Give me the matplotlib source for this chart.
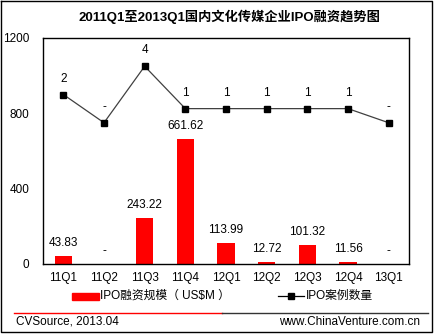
import matplotlib
matplotlib.use("Agg")
import matplotlib.pyplot as plt
from matplotlib.lines import Line2D
from matplotlib.patches import Rectangle

plt.rcParams['font.family'] = ['Liberation Sans', 'Noto Sans CJK SC', 'DejaVu Sans']

quarters = ["11Q1", "11Q2", "11Q3", "11Q4", "12Q1", "12Q2", "12Q3", "12Q4", "13Q1"]
ipo_amount = [43.83, 0, 243.22, 661.62, 113.99, 12.72, 101.32, 11.56, 0]
ipo_count = [2, 0, 4, 1, 1, 1, 1, 1, 0]
y_ticks = [0, 400, 800, 1200]

title = "2011Q1至2013Q1国内文化传媒企业IPO融资趋势图"
amount_label = "IPO融资规模（ US$M ）"
count_label = "IPO案例数量"
source_text = "CVSource, 2013.04"
site_text = "www.ChinaVenture.com.cn"

FS = 8.5
W, H = 434, 335
fig = plt.figure(figsize=(W / 100, H / 100), dpi=100)
fig.patch.set_facecolor("white")


def fx(px):
    return px / W


def fy(py):
    return 1 - py / H


# plot area
left, right, top, bottom = 43, 409, 38, 264
ax = fig.add_axes([fx(left), fy(bottom), fx(right - left), (bottom - top) / H])
x = list(range(len(quarters)))
ax.bar(x, ipo_amount, width=0.42, color="#ff0000", zorder=2)
ax.set_xlim(-0.5, len(quarters) - 0.5)
ax.set_ylim(0, 1200)
ax.set_yticks(y_ticks)
ax.set_yticklabels([str(v) for v in y_ticks])
ax.set_xticks(x)
ax.set_xticklabels(quarters)
ax.tick_params(axis="y", length=0, pad=10, labelsize=FS)
ax.tick_params(axis="x", length=0, pad=6, labelsize=FS)
for s in ax.spines.values():
    s.set_linewidth(1.0)
    s.set_color("black")

for xi, v in zip(x, ipo_amount):
    ax.annotate(f"{v:.2f}" if v else "-", (xi, v), xytext=(0, 13),
                textcoords="offset pixels", ha="center", va="center", fontsize=FS)

# case count on a hidden secondary scale
ax2 = ax.twinx()
ax2.set_ylim(-10, 6)
ax2.axis("off")
ax2.plot(x, ipo_count, color="#404040", lw=0.9, marker="s", markersize=3.8,
         markerfacecolor="black", markeredgecolor="black", zorder=3)
for xi, c in zip(x, ipo_count):
    ax2.annotate(str(c) if c else "-", (xi, c), xytext=(0, 16),
                 textcoords="offset pixels", ha="center", va="center", fontsize=FS)

# title
fig.text(fx(229), fy(17), title, ha="center", va="center", fontsize=9.5,
         fontweight="bold")

# legend
fig.patches.append(Rectangle((fx(72), fy(300)), fx(27), 7 / H, color="#ff0000",
                             transform=fig.transFigure, figure=fig))
fig.text(fx(100), fy(296), amount_label, ha="left", va="center", fontsize=FS)
fig.lines.append(Line2D([fx(278), fx(304)], [fy(296), fy(296)], color="black",
                        lw=0.9, transform=fig.transFigure, figure=fig))
fig.lines.append(Line2D([fx(291)], [fy(296)], marker="s", markersize=3.8,
                        color="black", transform=fig.transFigure, figure=fig))
fig.text(fx(306), fy(296), count_label, ha="left", va="center", fontsize=FS)

# footer rule and credits
fig.lines.append(Line2D([fx(14), fx(222)], [fy(313), fy(313)], color="#ff0000",
                        lw=1.0, transform=fig.transFigure, figure=fig))
fig.lines.append(Line2D([fx(222), fx(428)], [fy(313), fy(313)], color="#333333",
                        lw=1.0, transform=fig.transFigure, figure=fig))
fig.text(fx(16), fy(322), source_text, ha="left", va="center", fontsize=FS)
fig.text(fx(420), fy(322), site_text, ha="right", va="center", fontsize=FS)

# outer frame
fig.lines.append(Line2D([fx(1), fx(1), fx(432), fx(432), fx(1)],
                        [fy(0.5), fy(332), fy(332), fy(0.5), fy(0.5)],
                        color="black", lw=1.0, transform=fig.transFigure, figure=fig))

fig.savefig("out.png", dpi=100, facecolor="white")
